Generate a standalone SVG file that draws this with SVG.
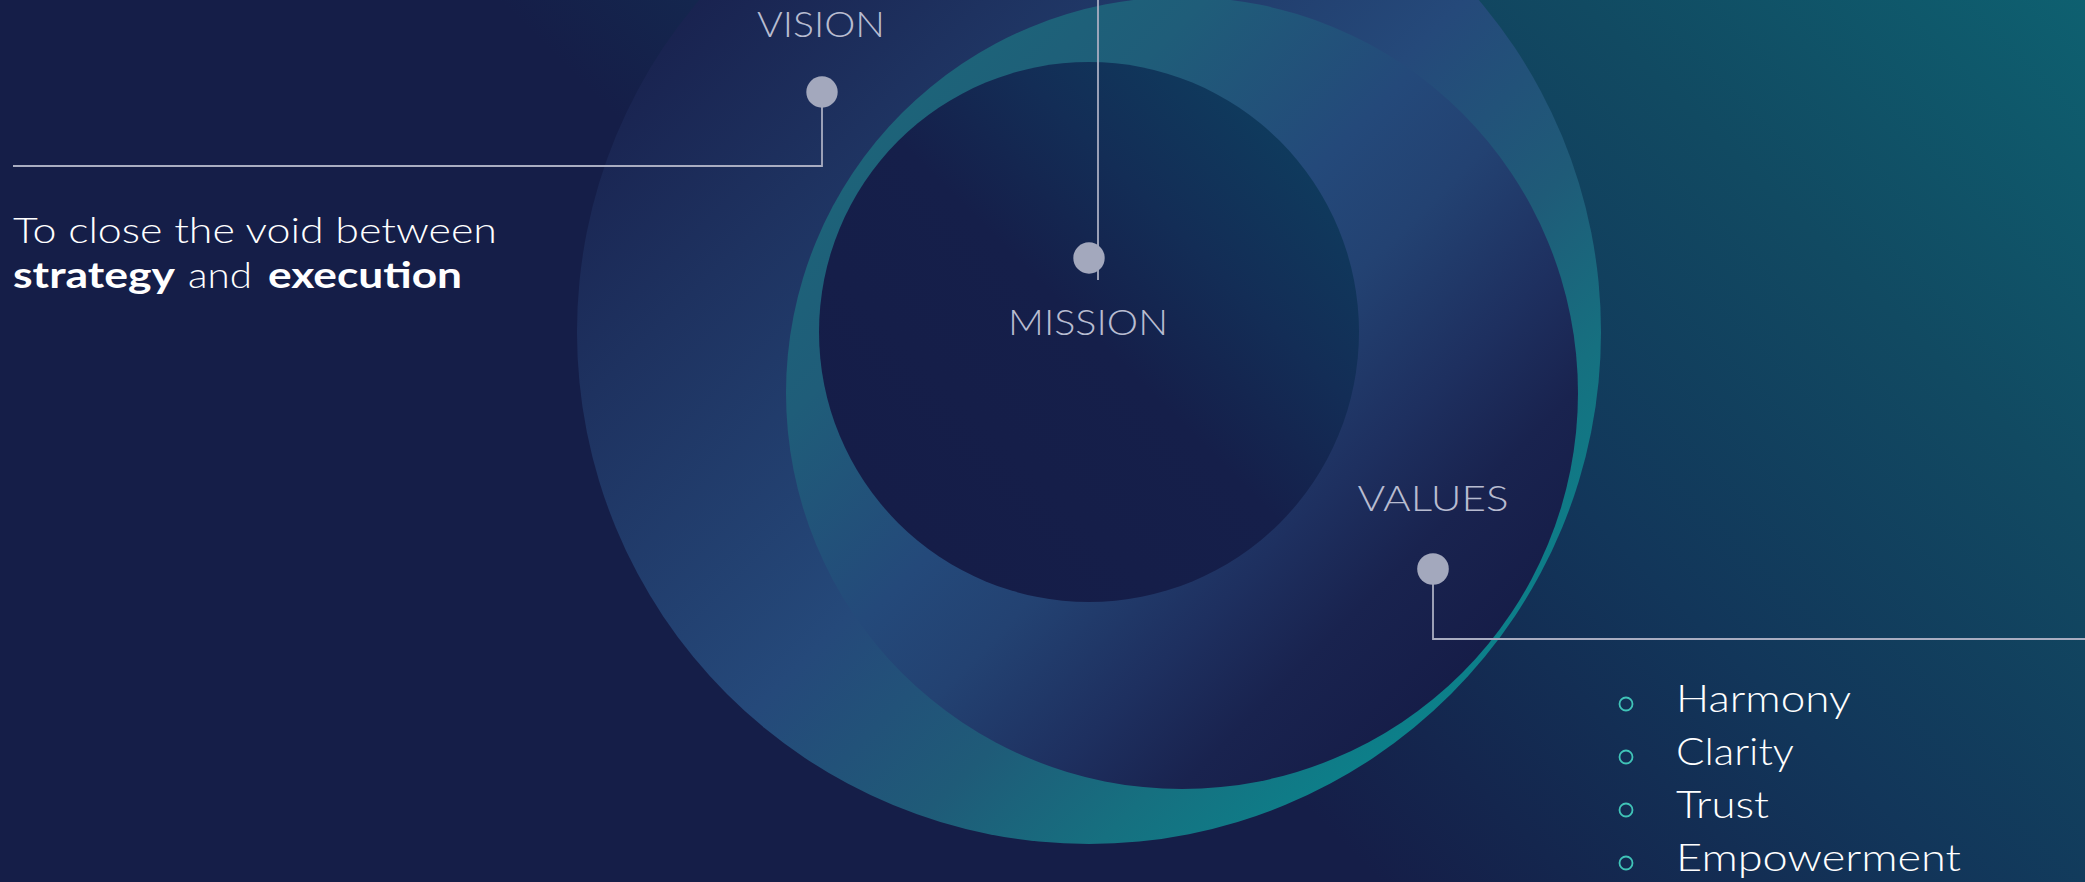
<svg xmlns="http://www.w3.org/2000/svg" width="2085" height="882" viewBox="0 0 2085 882">
  <style>
    .lbl { font-family: Lato, "Open Sans", "Liberation Sans", sans-serif; font-weight: 300; font-size: 35px; fill: #b8bcd0; }
    .txt { font-family: Lato, "Open Sans", "Liberation Sans", sans-serif; font-weight: 300; font-size: 36px; fill: #ffffff; }
    .bold { font-weight: 700; }
    .item { font-family: Lato, "Open Sans", "Liberation Sans", sans-serif; font-weight: 300; font-size: 37px; fill: #ffffff; }
    .dot { fill: #a3a8bd; }
    .conn { fill: none; stroke: #a9adc1; stroke-width: 1.8; }
    .bullet { fill: none; stroke: #40c4b8; stroke-width: 1.8; }
  </style>
  <defs>
    <linearGradient id="bg" gradientUnits="userSpaceOnUse" x1="1292.5" y1="792.5" x2="2085" y2="0">
      <stop offset="0" stop-color="#151e48"/>
      <stop offset="0.363" stop-color="#12365a"/>
      <stop offset="0.681" stop-color="#114a62"/>
      <stop offset="1" stop-color="#0e6070"/>
    </linearGradient>
    <linearGradient id="g1" gradientUnits="userSpaceOnUse" x1="727" y1="-30" x2="1451" y2="694">
      <stop offset="0" stop-color="#192350"/>
      <stop offset="0.2" stop-color="#1e3260"/>
      <stop offset="0.53" stop-color="#25497a"/>
      <stop offset="0.72" stop-color="#1f5b78"/>
      <stop offset="0.86" stop-color="#167080"/>
      <stop offset="1" stop-color="#0c808a"/>
    </linearGradient>
    <linearGradient id="g2" gradientUnits="userSpaceOnUse" x1="902" y1="113" x2="1462" y2="673">
      <stop offset="0" stop-color="#1d6379"/>
      <stop offset="0.17" stop-color="#1f5d79"/>
      <stop offset="0.42" stop-color="#24497a"/>
      <stop offset="0.55" stop-color="#234272"/>
      <stop offset="0.72" stop-color="#1e3060"/>
      <stop offset="0.85" stop-color="#19234f"/>
      <stop offset="1" stop-color="#161d48"/>
    </linearGradient>
    <linearGradient id="g3" gradientUnits="userSpaceOnUse" x1="898" y1="523" x2="1280" y2="141">
      <stop offset="0" stop-color="#151d48"/>
      <stop offset="0.5" stop-color="#151f4a"/>
      <stop offset="0.75" stop-color="#132d56"/>
      <stop offset="1" stop-color="#0f3a5d"/>
    </linearGradient>
  </defs>

  <rect x="0" y="0" width="2085" height="882" fill="url(#bg)"/>

  <g id="rings">
    <circle cx="1089" cy="332" r="512" fill="url(#g1)"/>
    <circle cx="1182" cy="393" r="396" fill="url(#g2)"/>
    <circle cx="1089" cy="332" r="270" fill="url(#g3)"/>
  </g>

  <g id="connectors">
    <path class="conn" d="M822,92 V166 H13"/>
    <path class="conn" d="M1098,0 V280"/>
    <path class="conn" d="M1433,569 V639 H2085"/>
  </g>

  <g id="vision">
    <text class="lbl" x="821" y="37" text-anchor="middle" textLength="128" lengthAdjust="spacingAndGlyphs">VISION</text>
    <circle class="dot" cx="822" cy="92" r="15.7"/>
    <text class="txt" x="13" y="243" textLength="484" lengthAdjust="spacingAndGlyphs">To close the void between</text>
    <text class="txt bold" x="13" y="288" textLength="162" lengthAdjust="spacingAndGlyphs">strategy</text>
    <text class="txt" x="188" y="288" textLength="64" lengthAdjust="spacingAndGlyphs">and</text>
    <text class="txt bold" x="268" y="288" textLength="194" lengthAdjust="spacingAndGlyphs">execution</text>
  </g>

  <g id="mission">
    <circle class="dot" cx="1089" cy="258" r="15.7"/>
    <text class="lbl" x="1088" y="335" text-anchor="middle" textLength="160" lengthAdjust="spacingAndGlyphs">MISSION</text>
  </g>

  <g id="values">
    <text class="lbl" x="1433" y="511" text-anchor="middle" textLength="151" lengthAdjust="spacingAndGlyphs">VALUES</text>
    <circle class="dot" cx="1433" cy="569" r="15.8"/>
    <circle class="bullet" cx="1626" cy="704" r="6.5"/>
    <text class="item" x="1676" y="712" textLength="175" lengthAdjust="spacingAndGlyphs">Harmony</text>
    <circle class="bullet" cx="1626" cy="757" r="6.5"/>
    <text class="item" x="1676" y="765" textLength="118" lengthAdjust="spacingAndGlyphs">Clarity</text>
    <circle class="bullet" cx="1626" cy="810" r="6.5"/>
    <text class="item" x="1676" y="818" textLength="93" lengthAdjust="spacingAndGlyphs">Trust</text>
    <circle class="bullet" cx="1626" cy="863" r="6.5"/>
    <text class="item" x="1676" y="871" textLength="285" lengthAdjust="spacingAndGlyphs">Empowerment</text>
  </g>
</svg>
